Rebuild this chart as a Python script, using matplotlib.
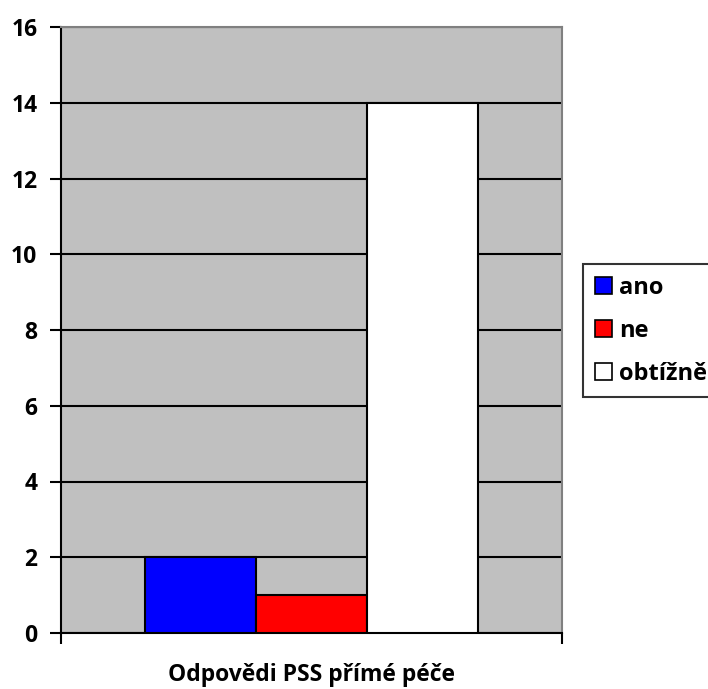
import matplotlib.pyplot as plt
from matplotlib.patches import Patch

categories = ["ano", "ne", "obtížně"]
values = [2, 1, 14]
colors = ["#0000FF", "#FF0000", "#FFFFFF"]
xlabel = "Odpovědi PSS přímé péče"
yticks = [0, 2, 4, 6, 8, 10, 12, 14, 16]

plt.rcParams["font.family"] = ["Open Sans", "DejaVu Sans"]
plt.rcParams["font.weight"] = "bold"

W, H = 708, 689
fig = plt.figure(figsize=(W / 100, H / 100), dpi=100)
ax = fig.add_axes([61 / W, 1 - 633 / H, (562 - 61) / W, (633 - 27) / H])
ax.set_facecolor("#C0C0C0")

bw = 111 / 501
for i, (c, v, col) in enumerate(zip(categories, values, colors)):
    ax.bar((i - 1) * bw, v, width=bw, color=col, edgecolor="black", linewidth=1.5, zorder=3, label=c)

ax.set_xlim(-0.5, 0.5)
ax.set_ylim(0, 16)
ax.set_yticks(yticks)
ax.yaxis.grid(True, color="black", linewidth=1.5, zorder=1)
ax.set_axisbelow(True)
ax.tick_params(axis="y", direction="out", length=8, width=1.5, labelsize=16.5, pad=9)
ax.set_xticks([-0.5, 0.5])
ax.set_xticklabels([])
ax.tick_params(axis="x", direction="out", length=8, width=1.5)
for s in ["left", "bottom"]:
    ax.spines[s].set_color("black")
    ax.spines[s].set_linewidth(1.5)
for s in ["top", "right"]:
    ax.spines[s].set_color("#808080")
    ax.spines[s].set_linewidth(1.5)

fig.text((61 + 562) / 2 / W, 1 - 675 / H, xlabel, ha="center", va="center", fontsize=16.5, fontweight="bold")

handles = [Patch(facecolor=col, edgecolor="black", linewidth=1.2) for col in colors]
leg = fig.legend(handles, categories, loc="upper left", bbox_to_anchor=(583 / W, 1 - 264 / H),
                 frameon=True, fancybox=False, edgecolor="black", fontsize=17,
                 handlelength=0.72, handleheight=0.72, handletextpad=0.3, labelspacing=0.8,
                 borderpad=0.5, borderaxespad=0)
leg.get_frame().set_linewidth(1.5)

fig.savefig("out.png", dpi=100)
